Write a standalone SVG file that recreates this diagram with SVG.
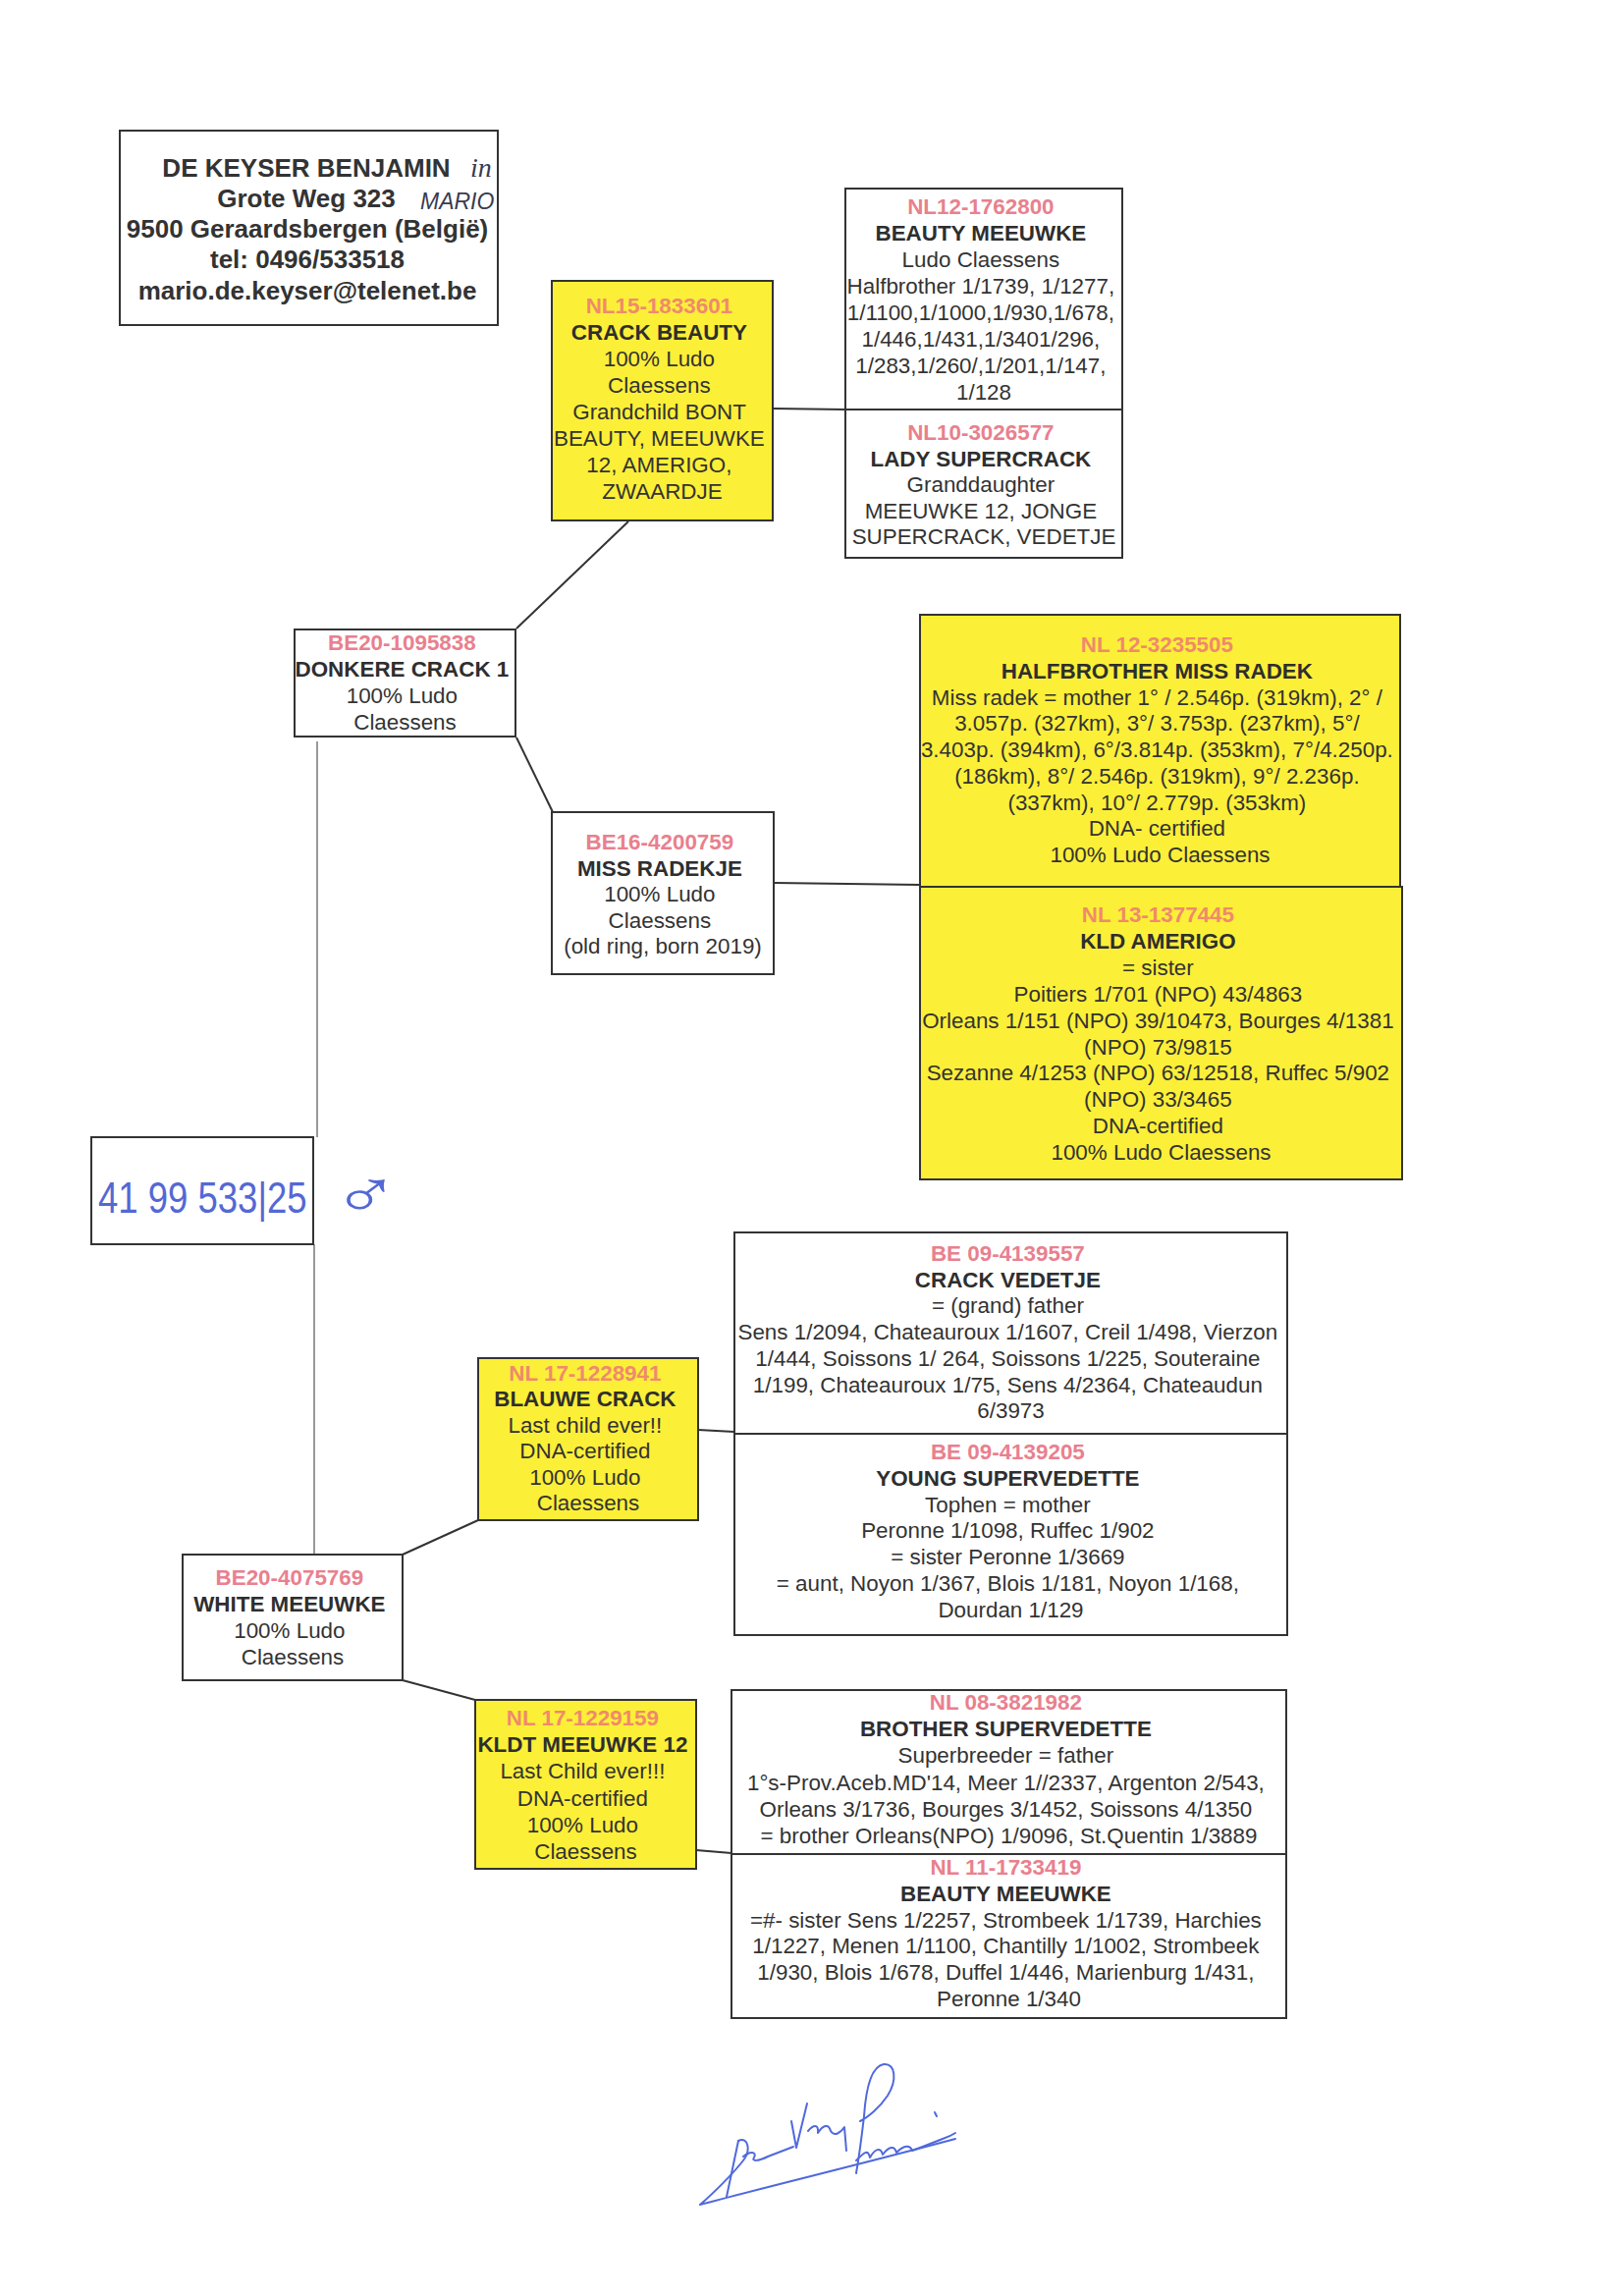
<svg xmlns="http://www.w3.org/2000/svg" width="1654" height="2337" viewBox="0 0 1654 2337">
<style>
  .box { fill: #ffffff; stroke: #333333; stroke-width: 2; }
  .ybox { fill: #fcef38; stroke: #333333; stroke-width: 2; }
  .t { font-family: "Liberation Sans", Arial, sans-serif; font-size: 22.4px; fill: #333333; text-anchor: middle; }
  .id { font-weight: bold; fill: #e9808e; }
  .yid { font-weight: bold; fill: #ef8a6c; }
  .nm { font-weight: bold; fill: #2e2e2e; }
  .hdr { font-family: "Liberation Sans", Arial, sans-serif; font-size: 26px; font-weight: bold; fill: #333333; text-anchor: middle; }
  .hand { font-family: "Liberation Sans", Arial, sans-serif; fill: #5468d4; }
  .conn { stroke: #333333; stroke-width: 2; fill: none; }
  .vline { stroke: #777777; stroke-width: 1.5; fill: none; }
  .sig { stroke: #5069dc; stroke-width: 2; fill: none; stroke-linecap: round; stroke-linejoin: round; }
</style>
<rect width="1654" height="2337" fill="#ffffff"/>

<g id="connectors">
  <line class="conn" x1="787" y1="416" x2="861" y2="417"/>
  <line class="conn" x1="526" y1="640" x2="640" y2="531"/>
  <line class="conn" x1="526" y1="751" x2="563" y2="827"/>
  <line class="conn" x1="788" y1="899" x2="937" y2="901"/>
  <line class="vline" x1="323" y1="755" x2="323" y2="1158"/>
  <line class="vline" x1="320" y1="1267" x2="320" y2="1583"/>
  <line class="conn" x1="410" y1="1583" x2="487" y2="1548"/>
  <line class="conn" x1="410" y1="1711" x2="484" y2="1731"/>
  <line class="conn" x1="711" y1="1456" x2="748" y2="1458"/>
  <line class="conn" x1="709" y1="1884" x2="745" y2="1887"/>
</g>

<g id="header">
  <rect class="box" x="122" y="133" width="385" height="198"/>
  <text class="hdr" x="312" y="180">DE KEYSER BENJAMIN</text>
  <text class="hdr" x="312" y="211">Grote Weg 323</text>
  <text class="hdr" x="313" y="242">9500 Geraardsbergen (België)</text>
  <text class="hdr" x="313" y="273">tel: 0496/533518</text>
  <text class="hdr" x="313" y="305">mario.de.keyser@telenet.be</text>
  <text x="479" y="180" font-family="Liberation Serif, serif" font-style="italic" font-size="28" fill="#3a3b50">in</text>
  <text x="428" y="213" font-family="Liberation Sans, sans-serif" font-style="italic" font-size="23" fill="#3a3b50">MARIO</text>
</g>

<g id="crack-beauty">
  <rect class="ybox" x="562" y="286" width="225" height="244"/>
  <text class="t" x="674.5" y="319">
    <tspan class="yid" x="674.5">NL15-1833601</tspan>
    <tspan class="nm" x="674.5" dy="27">CRACK BEAUTY</tspan>
    <tspan x="674.5" dy="27">100% Ludo</tspan>
    <tspan x="674.5" dy="27">Claessens</tspan>
    <tspan x="674.5" dy="27">Grandchild BONT</tspan>
    <tspan x="674.5" dy="27">BEAUTY, MEEUWKE</tspan>
    <tspan x="674.5" dy="27">12, AMERIGO,</tspan>
    <tspan x="674.5" dy="27">ZWAARDJE</tspan>
  </text>
</g>

<g id="beauty-meeuwke-1">
  <rect class="box" x="861" y="192" width="282" height="225"/>
  <text class="t" x="1002" y="218">
    <tspan class="id" x="1002">NL12-1762800</tspan>
    <tspan class="nm" x="1002" dy="27">BEAUTY MEEUWKE</tspan>
    <tspan x="1002" dy="27">Ludo Claessens</tspan>
    <tspan x="1002" dy="27">Halfbrother 1/1739, 1/1277,</tspan>
    <tspan x="1002" dy="27">1/1100,1/1000,1/930,1/678,</tspan>
    <tspan x="1002" dy="27">1/446,1/431,1/3401/296,</tspan>
    <tspan x="1002" dy="27">1/283,1/260/,1/201,1/147,</tspan>
    <tspan x="1002" dy="27">1/128</tspan>
  </text>
</g>

<g id="lady-supercrack">
  <rect class="box" x="861" y="417" width="282" height="151"/>
  <text class="t" x="1002" y="448">
    <tspan class="id" x="1002">NL10-3026577</tspan>
    <tspan class="nm" x="1002" dy="26.5">LADY SUPERCRACK</tspan>
    <tspan x="1002" dy="26.5">Granddaughter</tspan>
    <tspan x="1002" dy="26.5">MEEUWKE 12, JONGE</tspan>
    <tspan x="1002" dy="26.5">SUPERCRACK, VEDETJE</tspan>
  </text>
</g>

<g id="donkere-crack">
  <rect class="box" x="300" y="641" width="225" height="109"/>
  <text class="t" x="412.5" y="662">
    <tspan class="id" x="412.5">BE20-1095838</tspan>
    <tspan class="nm" x="412.5" dy="27">DONKERE CRACK 1</tspan>
    <tspan x="412.5" dy="27">100% Ludo</tspan>
    <tspan x="412.5" dy="27">Claessens</tspan>
  </text>
</g>

<g id="miss-radekje">
  <rect class="box" x="562" y="827" width="226" height="165"/>
  <text class="t" x="675" y="865">
    <tspan class="id" x="675">BE16-4200759</tspan>
    <tspan class="nm" x="675" dy="26.5">MISS RADEKJE</tspan>
    <tspan x="675" dy="26.5">100% Ludo</tspan>
    <tspan x="675" dy="26.5">Claessens</tspan>
    <tspan x="675" dy="26.5">(old ring, born 2019)</tspan>
  </text>
</g>

<g id="halfbrother-miss-radek">
  <rect class="ybox" x="937" y="626" width="489" height="277"/>
  <text class="t" x="1181.5" y="664">
    <tspan class="yid" x="1181.5">NL 12-3235505</tspan>
    <tspan class="nm" x="1181.5" dy="26.75">HALFBROTHER MISS RADEK</tspan>
    <tspan x="1181.5" dy="26.75">Miss radek = mother 1° / 2.546p. (319km), 2° /</tspan>
    <tspan x="1181.5" dy="26.75">3.057p. (327km), 3°/ 3.753p. (237km), 5°/</tspan>
    <tspan x="1181.5" dy="26.75">3.403p. (394km), 6°/3.814p. (353km), 7°/4.250p.</tspan>
    <tspan x="1181.5" dy="26.75">(186km), 8°/ 2.546p. (319km), 9°/ 2.236p.</tspan>
    <tspan x="1181.5" dy="26.75">(337km), 10°/ 2.779p. (353km)</tspan>
    <tspan x="1181.5" dy="26.75">DNA- certified</tspan>
    <tspan x="1181.5" dy="26.75">100% Ludo Claessens</tspan>
  </text>
</g>

<g id="kld-amerigo">
  <rect class="ybox" x="937" y="903" width="491" height="298"/>
  <text class="t" x="1182.5" y="939">
    <tspan class="yid" x="1182.5">NL 13-1377445</tspan>
    <tspan class="nm" x="1182.5" dy="26.9">KLD AMERIGO</tspan>
    <tspan x="1182.5" dy="26.9">= sister</tspan>
    <tspan x="1182.5" dy="26.9">Poitiers 1/701 (NPO) 43/4863</tspan>
    <tspan x="1182.5" dy="26.9">Orleans 1/151 (NPO) 39/10473, Bourges 4/1381</tspan>
    <tspan x="1182.5" dy="26.9">(NPO) 73/9815</tspan>
    <tspan x="1182.5" dy="26.9">Sezanne 4/1253 (NPO) 63/12518, Ruffec 5/902</tspan>
    <tspan x="1182.5" dy="26.9">(NPO) 33/3465</tspan>
    <tspan x="1182.5" dy="26.9">DNA-certified</tspan>
    <tspan x="1182.5" dy="26.9">100% Ludo Claessens</tspan>
  </text>
</g>

<g id="ring-box">
  <rect class="box" x="93" y="1158" width="226" height="109"/>
  <text class="hand" transform="translate(100 1235) scale(0.83 1)" x="0" y="0" font-size="44">41 99 533|25</text>
  <text class="hand" transform="translate(338 1240) scale(1 0.75)" x="0" y="0" font-family="DejaVu Sans, sans-serif" font-size="92">♂</text>
</g>

<g id="blauwe-crack">
  <rect class="ybox" x="487" y="1383" width="224" height="165"/>
  <text class="t" x="599" y="1406">
    <tspan class="yid" x="599">NL 17-1228941</tspan>
    <tspan class="nm" x="599" dy="26.4">BLAUWE CRACK</tspan>
    <tspan x="599" dy="26.4">Last child ever!!</tspan>
    <tspan x="599" dy="26.4">DNA-certified</tspan>
    <tspan x="599" dy="26.4">100% Ludo</tspan>
    <tspan x="599" dy="26.4">Claessens</tspan>
  </text>
</g>

<g id="crack-vedetje">
  <rect class="box" x="748" y="1255" width="563" height="205"/>
  <text class="t" x="1029.5" y="1284">
    <tspan class="id" x="1029.5">BE 09-4139557</tspan>
    <tspan class="nm" x="1029.5" dy="26.7">CRACK VEDETJE</tspan>
    <tspan x="1029.5" dy="26.7">= (grand) father</tspan>
    <tspan x="1029.5" dy="26.7">Sens 1/2094, Chateauroux 1/1607, Creil 1/498, Vierzon</tspan>
    <tspan x="1029.5" dy="26.7">1/444, Soissons 1/ 264, Soissons 1/225, Souteraine</tspan>
    <tspan x="1029.5" dy="26.7">1/199, Chateauroux 1/75, Sens 4/2364, Chateaudun</tspan>
    <tspan x="1029.5" dy="26.7">6/3973</tspan>
  </text>
</g>

<g id="young-supervedette">
  <rect class="box" x="748" y="1460" width="563" height="205"/>
  <text class="t" x="1029.5" y="1486">
    <tspan class="id" x="1029.5">BE 09-4139205</tspan>
    <tspan class="nm" x="1029.5" dy="26.8">YOUNG SUPERVEDETTE</tspan>
    <tspan x="1029.5" dy="26.8">Tophen = mother</tspan>
    <tspan x="1029.5" dy="26.8">Peronne 1/1098, Ruffec 1/902</tspan>
    <tspan x="1029.5" dy="26.8">= sister Peronne 1/3669</tspan>
    <tspan x="1029.5" dy="26.8">= aunt, Noyon 1/367, Blois 1/181, Noyon 1/168,</tspan>
    <tspan x="1029.5" dy="26.8">Dourdan 1/129</tspan>
  </text>
</g>

<g id="white-meeuwke">
  <rect class="box" x="186" y="1583" width="224" height="128"/>
  <text class="t" x="298" y="1614">
    <tspan class="id" x="298">BE20-4075769</tspan>
    <tspan class="nm" x="298" dy="27">WHITE MEEUWKE</tspan>
    <tspan x="298" dy="27">100% Ludo</tspan>
    <tspan x="298" dy="27">Claessens</tspan>
  </text>
</g>

<g id="kldt-meeuwke-12">
  <rect class="ybox" x="484" y="1731" width="225" height="172"/>
  <text class="t" x="596.5" y="1757">
    <tspan class="yid" x="596.5">NL 17-1229159</tspan>
    <tspan class="nm" x="596.5" dy="27.2">KLDT MEEUWKE 12</tspan>
    <tspan x="596.5" dy="27.2">Last Child ever!!!</tspan>
    <tspan x="596.5" dy="27.2">DNA-certified</tspan>
    <tspan x="596.5" dy="27.2">100% Ludo</tspan>
    <tspan x="596.5" dy="27.2">Claessens</tspan>
  </text>
</g>

<g id="brother-supervedette">
  <rect class="box" x="745" y="1721" width="565" height="167"/>
  <text class="t" x="1027.5" y="1741">
    <tspan class="id" x="1027.5">NL 08-3821982</tspan>
    <tspan class="nm" x="1027.5" dy="27.2">BROTHER SUPERVEDETTE</tspan>
    <tspan x="1027.5" dy="27.2">Superbreeder = father</tspan>
    <tspan x="1027.5" dy="27.2">1°s-Prov.Aceb.MD'14, Meer 1//2337, Argenton 2/543,</tspan>
    <tspan x="1027.5" dy="27.2">Orleans 3/1736, Bourges 3/1452, Soissons 4/1350</tspan>
    <tspan x="1027.5" dy="27.2">= brother Orleans(NPO) 1/9096, St.Quentin 1/3889</tspan>
  </text>
</g>

<g id="beauty-meeuwke-2">
  <rect class="box" x="745" y="1888" width="565" height="167"/>
  <text class="t" x="1027.5" y="1909">
    <tspan class="id" x="1027.5">NL 11-1733419</tspan>
    <tspan class="nm" x="1027.5" dy="26.8">BEAUTY MEEUWKE</tspan>
    <tspan x="1027.5" dy="26.8">=#- sister Sens 1/2257, Strombeek 1/1739, Harchies</tspan>
    <tspan x="1027.5" dy="26.8">1/1227, Menen 1/1100, Chantilly 1/1002, Strombeek</tspan>
    <tspan x="1027.5" dy="26.8">1/930, Blois 1/678, Duffel 1/446, Marienburg 1/431,</tspan>
    <tspan x="1027.5" dy="26.8">Peronne 1/340</tspan>
  </text>
</g>

<g id="signature">
  <path class="sig" d="M 740 2237 L 752 2180"/>
  <path class="sig" d="M 752 2180 C 762 2175 765 2190 757 2200 C 747 2213 727 2233 713 2245 C 780 2227 880 2203 973 2178"/>
  <path class="sig" d="M 757 2196 C 764 2190 771 2191 768 2197 C 765 2201 772 2201 782 2196 L 808 2186"/>
  <path class="sig" d="M 806 2160 L 811 2187 L 822 2142"/>
  <path class="sig" d="M 823 2170 C 828 2164 834 2162 833 2172 C 838 2164 844 2162 846 2170 C 850 2176 856 2172 860 2166 L 862 2190"/>
  <path class="sig" d="M 872 2213 C 876 2190 878 2172 880 2155 C 882 2125 888 2104 900 2102 C 912 2101 914 2118 904 2134 C 896 2146 884 2156 876 2160"/>
  <path class="sig" d="M 872 2200 C 880 2192 884 2188 886 2197 C 891 2188 897 2186 899 2194 C 905 2186 911 2184 913 2192 C 921 2184 927 2184 929 2190 C 940 2186 950 2182 960 2178 C 966 2176 970 2174 973 2172"/>
  <path class="sig" d="M 952 2151 L 954 2155"/>
</g>
</svg>
